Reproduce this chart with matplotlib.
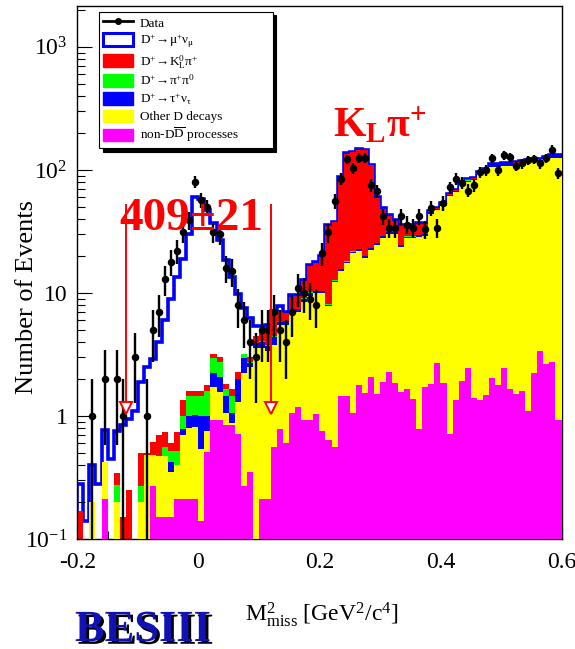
import numpy as np
import matplotlib
matplotlib.use("Agg")
import matplotlib.pyplot as plt
import matplotlib.patheffects as pe
from matplotlib.lines import Line2D
from matplotlib.patches import Patch
from matplotlib.ticker import LogLocator, MultipleLocator, NullFormatter

plt.rcParams['font.family'] = ['Liberation Serif', 'DejaVu Serif']
plt.rcParams['mathtext.fontset'] = 'custom'
plt.rcParams['mathtext.rm'] = 'Liberation Serif'
plt.rcParams['mathtext.it'] = 'Liberation Serif:italic'
plt.rcParams['mathtext.bf'] = 'Liberation Serif:bold'

# M2miss histogram: 80 bins of 0.01 GeV^2/c^4 from -0.2 to 0.6
x_lo, x_hi, n_bins = -0.2, 0.6, 80

data = [0, 0, 1, 0, 2, 0, 2, 1, 0, 3,
        0, 1, 5, 7, 13, 18, 22, 31, 39, 80,
        57, 50, 31, 30, 16, 15, 8, 6, 4, 3,
        5, 5, 7, 5, 4, 7, 11, 10, 9, 8,
        21, 31, 56, 85, 122, 103, 126, 126, 75, 67,
        42, 34, 34, 42, 36, 34, 42, 33, 49, 34,
        54, 72, 85, 79, 68, 75, 96, 99, 124, 99,
        132, 127, 108, 113, 120, 122, 113, 124, 146, 94]

# stacked MC, cumulative heights (bottom -> top)
top_nondd = [0, 0, 0, 0, 0.21, 0, 0, 0, 0, 0,
             0, 0, 0.27, 0.15, 0.15, 0.15, 0.21, 0.21, 0.21, 0.21,
             0.14, 0.51, 0.93, 0.93, 0.85, 0.85, 0.71, 0.27, 0.35, 0,
             0.21, 0.21, 0.56, 0.78, 0.6, 1.05, 1.18, 0.92, 0.92, 1.04,
             0.76, 0.64, 0.56, 1.44, 1.44, 1.06, 1.77, 1.55, 2.09, 1.5,
             1.9, 2.29, 1.84, 1.56, 1.65, 1.37, 0.79, 1.73, 1.81, 2.68,
             1.84, 0.71, 1.35, 1.93, 2.44, 1.41, 1.35, 1.48, 2.05, 1.77,
             2.44, 1.66, 1.5, 1.6, 1.1, 2.22, 3.4, 2.65, 2.77, 0.92]

top_other = [0, 0, 0.2, 0, 0.42, 0, 0.2, 0, 0, 0,
             0.2, 0.48, 0.48, 0.47, 0.47, 0.35, 0.40, 0.7, 0.8, 0.82,
             0.54, 0.75, 1.73, 1.58, 1.05, 0.87, 1.31, 2.22, 2.5, 3.6,
             3.6, 3.4, 3.8, 5.5, 5.5, 6.8, 7.0, 8.5, 9.5, 10.0,
             10.0, 7.8, 12.2, 15.1, 17.4, 21.0, 22.0, 19.4, 22.3, 24.6,
             28.1, 30.0, 30.0, 23.7, 27.8, 27.8, 28.6, 29.3, 44.0, 47.0,
             51.0, 61.0, 66.0, 77.0, 79.5, 82.5, 92.5, 96.5, 106, 106,
             108, 108, 110.5, 114, 116, 118, 118, 121.5, 125.5, 125.5]

top_taunu = [0, 0, 0.2, 0, 0.42, 0, 0.2, 0, 0, 0,
             0.2, 0.48, 0.48, 0.47, 0.47, 0.42, 0.40, 0.78, 1.0, 1.02,
             1.0, 1.0, 2.25, 2.09, 1.45, 1.05, 1.99, 2.94, 2.7, 3.9,
             4.0, 3.7, 4.4, 5.8, 5.9, 7.2, 7.4, 9.0, 10.0, 10.3,
             10.3, 8.0, 12.6, 15.6, 18.0, 21.7, 22.7, 20.0, 23.0, 25.4,
             29.0, 31.0, 31.0, 24.5, 28.7, 28.7, 29.5, 30.2, 45.2, 48.3,
             52.5, 62.8, 67.9, 79.2, 82.0, 85.0, 95.5, 99.5, 109.5, 109.5,
             111.5, 111.5, 114, 117.5, 119.5, 121.5, 121.5, 125.5, 129.5, 129.5]

top_pipi0 = [0, 0, 0.2, 0, 0.42, 0, 0.275, 0, 0, 0,
             0.27, 0.48, 0.48, 0.47, 0.56, 0.52, 0.52, 1.0, 1.44, 1.44,
             1.44, 1.6, 2.94, 2.77, 1.65, 1.44, 2.0, 3.2, 2.75, 3.95,
             4.05, 3.75, 4.45, 5.85, 5.95, 7.25, 7.45, 9.05, 10.1, 10.4,
             10.4, 8.1, 12.7, 15.7, 18.1, 21.8, 22.8, 20.1, 23.1, 25.5,
             29.1, 31.1, 31.1, 24.6, 28.8, 28.8, 29.6, 30.3, 45.3, 48.4,
             52.6, 62.9, 68.0, 79.3, 82.1, 85.1, 95.6, 99.6, 109.6, 109.6,
             111.6, 111.6, 114.1, 117.6, 119.6, 121.6, 121.6, 125.6, 129.6, 129.6]

top_klpi = [0.17, 0, 0.2, 0, 0.42, 0, 0.346, 0.15, 0.25, 0,
            0.5, 0.5, 0.62, 0.70, 0.74, 0.60, 0.74, 1.35, 1.61, 1.61,
            1.61, 1.79, 3.2, 3.0, 1.82, 1.67, 2.29, 3.2, 3.0, 4.5,
            5.0, 4.8, 6.5, 7.0, 6.8, 9.3, 9.4, 12.5, 16.5, 17.5,
            19.5, 35, 37.5, 87, 135, 139, 146, 144, 109, 59.5,
            48.5, 42.5, 38.6, 35.3, 35.3, 35.3, 36.5, 36.5, 46, 49.0,
            53.2, 63.4, 68.5, 80.0, 83.6, 86.2, 96.5, 100.5, 110.5, 110.5,
            112.5, 112.5, 115, 118.5, 120.5, 122.5, 122.5, 126.5, 130.5, 130.5]

top_munu = [0.28, 0.14, 0.4, 0.28, 0.77, 0.45, 0.75, 0.85, 0.95, 1.1,
            1.9, 2.5, 2.9, 4.0, 6.0, 9.0, 13.5, 19, 30, 60,
            58, 47, 37, 27, 18.5, 13.5, 9.8, 7.5, 6.2, 5.4,
            5.4, 5.5, 7.2, 7.8, 7.0, 9.6, 9.6, 12.8, 17, 18,
            20, 35.5, 38, 88, 137, 140, 147, 145, 110, 60,
            49, 43, 39, 35.7, 35.7, 35.7, 37, 37, 46.4, 49.4,
            53.6, 63.8, 68.8, 80.4, 84, 86.6, 97, 101, 111, 111,
            113, 113, 115.5, 119, 121, 123, 123, 127, 131, 131]

# signal region boundaries marked with arrows
signal_cut = [-0.12, 0.12]


def main():
    edges = np.linspace(x_lo, x_hi, n_bins + 1)
    centers = 0.5 * (edges[:-1] + edges[1:])
    floor = 1e-3

    fig = plt.figure(figsize=(5.75, 6.49), dpi=100)
    ax = fig.add_axes([77.3 / 575, 1 - 539 / 649, 484.2 / 575, 533 / 649])
    ax.set_yscale('log', nonpositive='clip')

    # mu nu on top: white fill with thick blue outline, then the stack over it
    ax.stairs(np.clip(top_munu, floor, None), edges, baseline=floor, fill=True,
              facecolor='white', edgecolor='#0000ff', linewidth=2.6, zorder=1)
    stack = [(top_klpi, '#ff0000'), (top_pipi0, '#00ff00'),
             (top_taunu, '#0000ff'), (top_other, '#ffff00'),
             (top_nondd, '#ff00ff')]
    for z, (top, col) in enumerate(stack):
        ax.stairs(np.clip(top, floor, None), edges, baseline=floor, fill=True,
                  color=col, linewidth=0, zorder=2 + z)

    d = np.array(data, dtype=float)
    nz = d > 0
    ax.errorbar(centers[nz], d[nz], yerr=np.sqrt(d[nz]), fmt='o', color='k',
                ms=4.4, elinewidth=1.7, capsize=0, zorder=10)

    for xc in signal_cut:
        ax.plot([xc, xc], [52, 1.32], color='red', lw=1.4, zorder=11)
        ax.plot([xc], [1.16], marker='v', ms=9, mfc='white', mec='red',
                mew=1.4, zorder=12)

    ax.set_xlim(x_lo, x_hi)
    ax.set_ylim(0.1, 2150)
    ax.xaxis.set_minor_locator(MultipleLocator(0.05))
    ax.set_xticks([-0.2, 0, 0.2, 0.4, 0.6])
    ax.set_xticklabels(['-0.2', '0', '0.2', '0.4', '0.6'])
    ax.set_yticks([0.1, 1, 10, 100, 1000])
    ax.set_yticklabels([r'$\mathregular{10^{-1}}$', '1', '10',
                        r'$\mathregular{10^{2}}$', r'$\mathregular{10^{3}}$'])
    ax.yaxis.set_minor_locator(LogLocator(base=10, subs=np.arange(2, 10)))
    ax.yaxis.set_minor_formatter(NullFormatter())
    ax.tick_params(which='both', direction='in', top=False, right=False,
                   labelsize=17, width=0.8)
    ax.tick_params(which='major', length=11)
    ax.tick_params(which='minor', length=6)
    ax.tick_params(axis='x', pad=9)
    ax.tick_params(axis='y', pad=7)
    for s in ax.spines.values():
        s.set_linewidth(1.0)

    handles = [
        Line2D([0], [0], color='k', lw=2, marker='o', ms=4),
        Patch(facecolor='white', edgecolor='#0000ff', linewidth=2.2),
        Patch(facecolor='#ff0000', edgecolor='#ff0000'),
        Patch(facecolor='#00ff00', edgecolor='#00ff00'),
        Patch(facecolor='#0000ff', edgecolor='#0000ff'),
        Patch(facecolor='#ffff00', edgecolor='#ffff00'),
        Patch(facecolor='#ff00ff', edgecolor='#ff00ff'),
    ]
    labels = [
        'Data',
        r'$\mathregular{D^{+}\!\rightarrow\!\mu^{+}\nu_{\mu}}$',
        r'$\mathregular{D^{+}\!\rightarrow\!K^{0}_{L}\pi^{+}}$',
        r'$\mathregular{D^{+}\!\rightarrow\!\pi^{+}\pi^{0}}$',
        r'$\mathregular{D^{+}\!\rightarrow\!\tau^{+}\nu_{\tau}}$',
        'Other D decays',
        r'non-D$\mathregular{\overline{D}}$ processes',
    ]
    leg = ax.legend(handles, labels, loc='upper left',
                    bbox_to_anchor=(0.045, 0.734, 0.359, 0.255), mode='expand',
                    borderaxespad=0, fontsize=9.5, handlelength=2.3,
                    handleheight=1.1, handletextpad=0.5, labelspacing=0.22,
                    borderpad=0.3, fancybox=False, framealpha=1,
                    edgecolor='black',
                    shadow={'color': 'black', 'alpha': 1, 'ox': 2.5, 'oy': -2.5})
    leg.get_frame().set_linewidth(0.8)
    leg.set_zorder(20)

    fig.text(27.5 / 575, 1 - 297 / 649, 'Number of Events', rotation=90,
             ha='center', va='center', fontsize=19)
    fig.text(245 / 575, 1 - 621 / 649,
             r'$\mathregular{M^{2}_{miss}}$ [GeV$\mathregular{^{2}}$/c$\mathregular{^{4}}$]',
             ha='left', va='baseline', fontsize=17)
    fig.text(75 / 575, 1 - 641 / 649, 'BESIII', ha='left', va='baseline',
             fontsize=32, fontweight='bold', color='#1212b4',
             path_effects=[pe.SimplePatchShadow(offset=(2, -2),
                                                shadow_rgbFace='black', alpha=1),
                           pe.Normal()])
    fig.text(191.5 / 575, 1 - 230 / 649, '409\u00b121', ha='center',
             va='baseline', fontsize=34, fontweight='bold', color='red',
             zorder=30)
    fig.text(333 / 575, 1 - 137 / 649,
             r'$\mathbf{K}_{\mathbf{L}}\mathbf{\pi}^{\mathbf{+}}$',
             ha='left', va='baseline', fontsize=30, color='red')

    fig.savefig('out.png', dpi=100)


if __name__ == '__main__':
    main()
